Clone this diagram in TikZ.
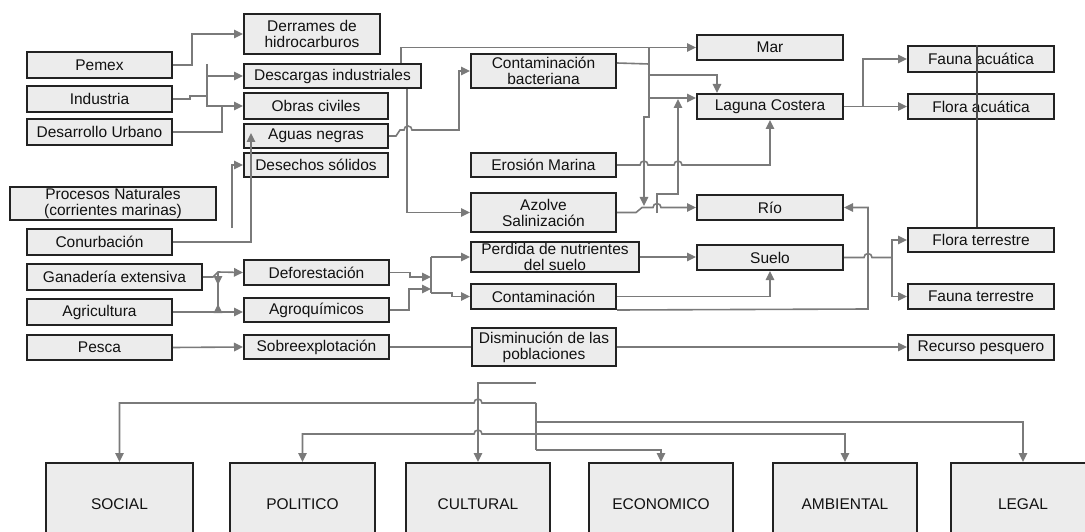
\documentclass[tikz,border=0pt]{standalone}
\usepackage{fontspec}
\setmainfont{Liberation Sans}
\usetikzlibrary{arrows.meta}
\definecolor{boxfill}{HTML}{ECECEC}
\definecolor{boxline}{HTML}{222222}
\definecolor{wirecol}{HTML}{7A7A7A}
\definecolor{darkwire}{HTML}{4A4A4A}
\definecolor{ink}{HTML}{111111}
\tikzset{
  box/.style={draw=boxline, line width=2pt, fill=boxfill, inner sep=0pt,
    align=center, text=ink, font=\fontsize{15.5}{16}\selectfont},
  wire/.style={draw=wirecol, line width=1.6pt},
  tip/.style={wire, -{Triangle[length=9pt,width=8.5pt]}},
  seam/.style={draw=darkwire, line width=1.6pt},
}
% box given by its corners (x1,y1)-(x2,y2), in pixel units
\newcommand\bx[6]{\node[box, minimum width={#4-#2}, minimum height={#5-#3}]
  (#1) at ({(#2+#4)/2},{(#3+#5)/2}) {#6};}
\begin{document}
\begin{tikzpicture}[x=1pt,y=-1pt]
\useasboundingbox (0,0) rectangle (1085,532);
\clip (0,0) rectangle (1085,532);

% sources
\bx{pemex}{27}{52}{172}{78}{Pemex}
\bx{industria}{27}{86}{172}{112}{Industria}
\bx{desurb}{27}{119}{172}{145}{Desarrollo Urbano}
\bx{procnat}{10}{187}{216}{220}{Procesos Naturales\\(corrientes marinas)}
\bx{conurb}{27}{229}{172}{255}{Conurbación}
\bx{ganad}{27}{264}{202}{290}{Ganadería extensiva}
\bx{agric}{27}{299}{172}{325}{Agricultura}
\bx{pesca}{27}{335}{172}{360}{Pesca}

% activities
\bx{derrames}{244}{14}{380}{54}{Derrames de\\hidrocarburos}
\bx{descargas}{244}{64}{421}{88}{Descargas industriales}
\bx{obras}{244}{93}{388}{119}{Obras civiles}
\bx{aguas}{244}{124}{388}{148}{Aguas negras}
\bx{desechos}{244}{153}{388}{177}{Desechos sólidos}
\bx{defor}{244}{260}{389}{285}{Deforestación}
\bx{agroq}{244}{298}{389}{322}{Agroquímicos}
\bx{sobre}{244}{335}{389}{359}{Sobreexplotación}

% effects
\bx{contbact}{471}{54}{616}{88}{Contaminación\\bacteriana}
\bx{erosion}{471}{153}{616}{177}{Erosión Marina}
\bx{azolve}{471}{193}{616}{232}{Azolve\\Salinización}
\bx{perdida}{471}{242}{639}{272}{Perdida de nutrientes\\del suelo}
\bx{contam}{471}{284}{616}{309}{Contaminación}
\bx{dismin}{472}{328}{616}{366}{Disminución de las\\poblaciones}

% environments
\bx{mar}{697}{35}{843}{60}{Mar}
\bx{laguna}{697}{94}{843}{119}{Laguna Costera}
\bx{rio}{697}{195}{843}{220}{Río}
\bx{suelo}{697}{245}{843}{270}{Suelo}

% resources
\bx{faunaac}{908}{46}{1054}{72}{Fauna acuática}
\bx{floraac}{908}{94}{1054}{119}{Flora acuática}
\bx{floraterr}{908}{228}{1054}{252}{Flora terrestre}
\bx{faunaterr}{908}{284}{1054}{309}{Fauna terrestre}
\bx{recurso}{908}{335}{1054}{360}{Recurso pesquero}

% impact areas
\bx{social}{46}{463}{193}{545}{SOCIAL}
\bx{politico}{230}{463}{375}{545}{POLITICO}
\bx{cultural}{406}{463}{550}{545}{CULTURAL}
\bx{economico}{589}{463}{733}{545}{ECONOMICO}
\bx{ambiental}{773}{463}{917}{545}{AMBIENTAL}
\bx{legal}{951}{463}{1095}{545}{LEGAL}

% Pemex, Industria, Desarrollo Urbano
\draw[tip] (pemex.east) -- (192,65) |- (derrames.west);
\draw[wire] (industria.east) -- (190,99) -- (190,96) -- (207,96);
\draw[wire] (207,64) -- (207,107);
\draw[tip] (207,76) -- (descargas.west);
\draw[tip] (207,106) -- (obras.west);
\draw[wire] (desurb.east) -- (222,132) -- (222,106);

% Conurbacion and the free line below Desechos solidos
\draw[tip] (conurb.east) -| (251,133);
\coordinate (pn) at (232,228);
\draw[tip] (pn) |- (desechos.west);

% Aguas negras -> Contaminacion bacteriana
\draw[tip] (aguas.east) -- (396,136) -- (400,130) -- (404,130)
  arc[start angle=180,end angle=0,radius=4pt] -- (459,130) |- (contbact.west);

% Descargas industriales -> Mar, Azolve
\draw[tip] (descargas.north west) ++(158,0) |- (mar.west);
\draw[tip] (descargas.south west) ++(164,0) |- (azolve.west);

% Contaminacion bacteriana -> Laguna Costera, Rio
\draw[wire] (contbact.north east) ++(0,10) -- (649,64);
\draw[tip] (649,47.5) -- (649,117) -- (644,117) -- (644,206);
\draw[tip] (649,75) -| ([xshift=21pt]laguna.north west);
\draw[tip] (649,98) -- (laguna.west |- 0,98);

% Azolve -> Rio, Laguna Costera
\draw[tip] (azolve.east) -- (636,212.5) -- (642,207.5) -- (653,207.5)
  arc[start angle=180,end angle=0,radius=4pt] -- (rio.west);
\draw[tip] (657,213) -- (657,194) -- (678,194) -- (678,99);

% Erosion Marina -> Laguna Costera
\draw[tip] (erosion.east) -- (640,165) arc[start angle=180,end angle=0,radius=4pt]
  -- (674,165) arc[start angle=180,end angle=0,radius=4pt] -| (laguna.south);

% Laguna Costera -> fauna y flora acuatica
\draw[tip] (laguna.east) -- (863,106.5) |- (faunaac.west);
\draw[tip] (laguna.east) -- (floraac.west);
\draw[seam] (faunaac.north -| 977,0) -- (floraterr.north -| 977,0);

% Ganaderia, Agricultura -> Deforestacion, Agroquimicos
\draw[tip] (ganad.east) -- (213,277) -- (218,272) -- (defor.west);
\draw[tip] (agric.east) -- (agroq.west |- agric.east);
\draw[wire] (218,272) -- (218,312);
\draw[tip] (218,272) -- (218,285);
\draw[tip] (218,312) -- (218,304);

% Deforestacion, Agroquimicos -> Perdida, Contaminacion
\draw[tip] (defor.east) -- (410,272.5) -- (410,277) -- (431,277);
\draw[tip] (agroq.east) -- (409,310) -- (409,289) -- (431,289);
\draw[wire] (431,257) -- (431,293);
\draw[tip] (431,257) -- (perdida.west);
\draw[tip] (431,293) -- (452,293) |- (contam.west);

% Perdida, Contaminacion -> Suelo, Rio
\draw[tip] (perdida.east) -- (suelo.west |- perdida.east);
\draw[tip] (contam.east) -| (suelo.south);
\draw[tip] (contam.south east) -- (868,309) |- (rio.east);

% Suelo -> flora y fauna terrestre
\draw[tip] (suelo.east) -- (864,257.5) arc[start angle=180,end angle=0,radius=4pt]
  -- (892,257.5) |- (floraterr.west);
\draw[tip] (892,257.5) |- (faunaterr.west);

% Pesca -> Sobreexplotacion -> Disminucion -> Recurso pesquero
\draw[tip] (pesca.east) -- (sobre.west);
\draw[wire] (sobre.east) -- (dismin.west);
\draw[tip] (dismin.east) -- (recurso.west |- dismin.east);

% distribution to the impact areas
\coordinate (ctop) at (536,383);
\draw[tip] (ctop) -| (cultural.north);
\draw[wire] (536,403) -- (536,450);
\draw[tip] (536,403) -- (482,403) arc[start angle=0,end angle=180,radius=4pt] -| (social.north);
\draw[tip] (536,434) -- (482,434) arc[start angle=0,end angle=180,radius=4pt] -| (politico.north);
\draw[tip] (536,434) -| (ambiental.north);
\draw[tip] (536,422) -| (legal.north);
\draw[tip] (536,450) -| (economico.north);
\end{tikzpicture}
\end{document}
